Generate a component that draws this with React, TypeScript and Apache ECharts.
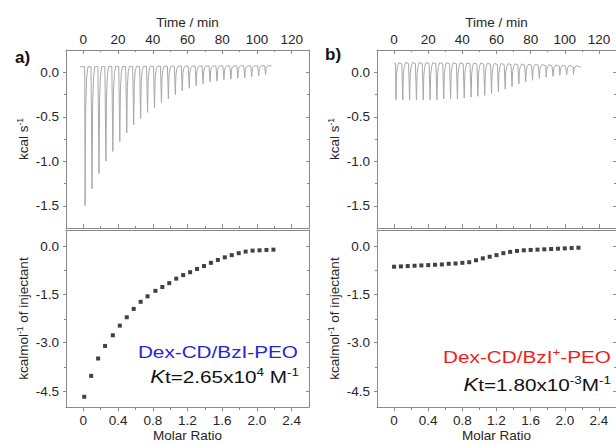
import React, { useEffect, useRef } from "react";
import * as echarts from "echarts";

// ---------- tick values ----------
const timeTicks = [0, 20, 40, 60, 80, 100, 120];
const timeMinor = [10, 30, 50, 70, 90, 110];
const rawYTicks = [-1.5, -1.0, -0.5, 0.0];
const rawYMinor = [-1.25, -0.75, -0.25];
const ratioTicks = [0, 0.4, 0.8, 1.2, 1.6, 2.0, 2.4];
const ratioMinor = [0.2, 0.6, 1.0, 1.4, 1.8, 2.2];
const heatYTicks = [-4.5, -3.0, -1.5, 0.0];
const heatYMinor = [-3.75, -2.25, -0.75];

// ---------- raw data panel a ----------
const injTimesA = [0.8, 4.8, 8.8, 12.8, 16.8, 20.8, 24.8, 28.8, 32.8, 36.8, 40.8, 44.8, 48.8, 52.8, 56.8, 60.8, 64.8, 68.8, 72.8, 76.8, 80.8, 84.8, 88.8, 92.8, 96.8, 100.8, 104.8];
const peakA = [-1.5, -1.31, -1.14, -1.0, -0.89, -0.78, -0.68, -0.59, -0.52, -0.45, -0.4, -0.34, -0.3, -0.25, -0.21, -0.18, -0.15, -0.13, -0.11, -0.1, -0.085, -0.078, -0.067, -0.062, -0.05, -0.04, -0.026];
const baseA = [0.062, 0.063, 0.064, 0.064, 0.065, 0.065, 0.066, 0.066, 0.067, 0.067, 0.068, 0.068, 0.068, 0.069, 0.069, 0.069, 0.07, 0.07, 0.07, 0.071, 0.071, 0.071, 0.072, 0.072, 0.072, 0.073, 0.073];

// ---------- raw data panel b ----------
const injTimesB = [0.9, 4.9, 8.9, 12.9, 16.9, 20.9, 24.9, 28.9, 32.9, 36.9, 40.9, 44.9, 48.9, 52.9, 56.9, 60.9, 64.9, 68.9, 72.9, 76.9, 80.9, 84.9, 88.9, 92.9, 96.9, 100.9, 104.9];
const peakB = [-0.31, -0.31, -0.31, -0.31, -0.31, -0.31, -0.31, -0.3, -0.3, -0.3, -0.29, -0.28, -0.27, -0.26, -0.24, -0.22, -0.19, -0.16, -0.13, -0.11, -0.09, -0.07, -0.055, -0.045, -0.035, -0.03, -0.025];
const baseB = [0.096, 0.097, 0.097, 0.097, 0.097, 0.096, 0.096, 0.095, 0.095, 0.094, 0.093, 0.092, 0.091, 0.09, 0.088, 0.087, 0.085, 0.083, 0.081, 0.079, 0.077, 0.075, 0.072, 0.07, 0.067, 0.065, 0.062];

// ---------- integrated heats ----------
const ratioA = [0.01, 0.09, 0.17, 0.25, 0.34, 0.42, 0.5, 0.58, 0.66, 0.74, 0.83, 0.91, 0.99, 1.07, 1.15, 1.23, 1.31, 1.39, 1.47, 1.55, 1.63, 1.71, 1.79, 1.87, 1.95, 2.03, 2.11, 2.19];
const heatA = [-4.68, -4.03, -3.49, -3.1, -2.77, -2.47, -2.21, -1.95, -1.73, -1.56, -1.39, -1.27, -1.15, -1.01, -0.9, -0.81, -0.71, -0.62, -0.52, -0.43, -0.35, -0.28, -0.22, -0.17, -0.14, -0.13, -0.12, -0.11];
const ratioB = [0.0, 0.08, 0.16, 0.24, 0.32, 0.4, 0.48, 0.56, 0.64, 0.72, 0.8, 0.88, 0.96, 1.04, 1.12, 1.2, 1.28, 1.36, 1.44, 1.52, 1.6, 1.68, 1.76, 1.84, 1.92, 2.0, 2.08, 2.16];
const heatB = [-0.64, -0.63, -0.62, -0.61, -0.6, -0.59, -0.58, -0.57, -0.55, -0.54, -0.52, -0.5, -0.44, -0.38, -0.33, -0.28, -0.22, -0.18, -0.15, -0.13, -0.12, -0.11, -0.1, -0.09, -0.08, -0.07, -0.06, -0.05];

const FONT = '"Liberation Sans", Arial, Helvetica, sans-serif';
const AXIS_COLOR = "#8a8a8a";
const LABEL_COLOR = "#262626";
const TRACE_COLOR = "#a8a8a8";

function buildTrace(times: number[], peaks: number[], bases: number[], start: number, end: number, overshoot: number) {
  const pts: number[][] = [[start, bases[0]]];
  times.forEach((t, i) => {
    const b = bases[i];
    const d = peaks[i];
    pts.push([t, b], [t + 0.2, d], [t + 0.55, b + (d - b) * 0.3], [t + 1.1, b + (d - b) * 0.08], [t + 1.8, b + overshoot], [t + 3.6, b]);
  });
  pts.push([end, bases[bases.length - 1]]);
  return pts;
}

const fmtY = (v: number) => (Math.abs(v) < 1e-9 ? "0.0" : v.toFixed(1));
const fmtRatio = (v: number) => (Math.abs(v) < 1e-9 ? "0" : v.toFixed(1));

const GRIDS = [
  { left: 66, top: 50, width: 243, height: 178 },
  { left: 66, top: 230, width: 243, height: 178 },
  { left: 377, top: 50, width: 243, height: 178 },
  { left: 377, top: 230, width: 243, height: 178 },
];

const labelStyle = { color: LABEL_COLOR, fontSize: 13.5, fontFamily: FONT };
const supRich = {
  n: { fontSize: 13.5, fontFamily: FONT, color: LABEL_COLOR, lineHeight: 16 },
  s: { fontSize: 8.5, fontFamily: FONT, color: LABEL_COLOR, verticalAlign: "top" as const, lineHeight: 16, padding: [0, 0, 7, 0] },
};

function makeX(panel: number, position: "top" | "bottom", minor: boolean) {
  const raw = panel === 0 || panel === 2;
  const gridIndex = minor ? panel + 4 : panel;
  const ticks = raw ? (minor ? timeMinor : timeTicks) : minor ? ratioMinor : ratioTicks;
  const labelled = !minor && ((raw && position === "top") || (!raw && position === "bottom"));
  const showTicks = raw || position === "bottom";
  const inside = raw;
  const ax: any = {
    type: "value",
    gridIndex,
    position,
    min: raw ? -10 : -0.2,
    max: raw ? 130 : 2.6,
    splitLine: { show: false },
    axisLine: { show: !minor, onZero: false, lineStyle: { color: AXIS_COLOR, width: 1 } },
    axisTick: { show: showTicks, inside, length: minor ? 2 : 4, customValues: ticks, lineStyle: { color: AXIS_COLOR, width: 1 } },
    axisLabel: labelled
      ? { show: true, customValues: ticks, margin: raw ? 4 : 6, ...labelStyle, formatter: raw ? (v: number) => String(v) : fmtRatio }
      : { show: false },
  };
  if (labelled) {
    ax.name = raw ? "Time / min" : "Molar Ratio";
    ax.nameLocation = "middle";
    ax.nameGap = raw ? 21 : 19;
    ax.nameTextStyle = { ...labelStyle };
  }
  return ax;
}

function makeY(panel: number, position: "left" | "right", minor: boolean) {
  const raw = panel === 0 || panel === 2;
  const gridIndex = minor ? panel + 4 : panel;
  const ticks = raw ? (minor ? rawYMinor : rawYTicks) : minor ? heatYMinor : heatYTicks;
  const labelled = !minor && position === "left";
  const ax: any = {
    type: "value",
    gridIndex,
    position,
    min: raw ? -1.75 : -5,
    max: raw ? 0.25 : 0.5,
    splitLine: { show: false },
    axisLine: { show: !minor, onZero: false, lineStyle: { color: AXIS_COLOR, width: 1 } },
    axisTick: { show: true, inside: position === "right", length: minor ? 2 : 3, customValues: ticks, lineStyle: { color: AXIS_COLOR, width: 1 } },
    axisLabel: labelled ? { show: true, customValues: ticks, margin: 7, ...labelStyle, formatter: fmtY } : { show: false },
  };
  if (labelled) {
    ax.name = raw ? "{n|kcal s}{s|-1}" : "{n|kcalmol}{s|-1}{n| of injectant}";
    ax.nameLocation = "middle";
    ax.nameGap = 34;
    ax.nameTextStyle = { ...labelStyle, rich: supRich };
  }
  return ax;
}

export default function App() {
  const ref = useRef<HTMLDivElement>(null);
  useEffect(() => {
    if (!ref.current) return;
    const chart = echarts.init(ref.current, undefined, { renderer: "svg" });
    const xAxis: any[] = [];
    const yAxis: any[] = [];
    for (const minor of [false, true]) {
      for (let p = 0; p < 4; p++) {
        xAxis.push(makeX(p, "top", minor), makeX(p, "bottom", minor));
        yAxis.push(makeY(p, "left", minor), makeY(p, "right", minor));
      }
    }
    const blue = "#2626d4";
    const red = "#f01c1c";
    const bigRich = (color: string) => ({
      n: { fontSize: 17, fontFamily: FONT, fill: color, lineHeight: 20 },
      s: { fontSize: 11, fontFamily: FONT, fill: color, verticalAlign: "top" as const, lineHeight: 20, padding: [0, 0, 9, 0] },
      k: { fontSize: 18, fontFamily: FONT, fontStyle: "italic" as const, fill: color, lineHeight: 20 },
    });
    const option: any = {
      animation: false,
      backgroundColor: "#ffffff",
      grid: [...GRIDS, ...GRIDS].map((g) => ({ ...g, containLabel: false })),
      xAxis,
      yAxis,
      series: [
        {
          type: "line",
          xAxisIndex: 0,
          yAxisIndex: 0,
          data: buildTrace(injTimesA, peakA, baseA, -2, 108.5, 0),
          showSymbol: false,
          symbol: "none",
          lineStyle: { color: TRACE_COLOR, width: 1 },
        },
        {
          type: "scatter",
          xAxisIndex: 3,
          yAxisIndex: 2,
          data: ratioA.map((r, i) => [r, heatA[i]]),
          symbol: "rect",
          symbolSize: 4,
          itemStyle: { color: "#111111" },
        },
        {
          type: "line",
          xAxisIndex: 4,
          yAxisIndex: 4,
          data: buildTrace(injTimesB, peakB, baseB, 0, 109.4, 0.012),
          showSymbol: false,
          symbol: "none",
          lineStyle: { color: TRACE_COLOR, width: 1 },
        },
        {
          type: "scatter",
          xAxisIndex: 7,
          yAxisIndex: 6,
          data: ratioB.map((r, i) => [r, heatB[i]]),
          symbol: "rect",
          symbolSize: 4,
          itemStyle: { color: "#111111" },
        },
      ],
      graphic: [
        { type: "text", x: 15, y: 57, style: { text: "a)", font: `bold 17px ${FONT}`, fill: "#111", verticalAlign: "middle" } },
        { type: "text", x: 325, y: 54, style: { text: "b)", font: `bold 17px ${FONT}`, fill: "#111", verticalAlign: "middle" } },
        {
          type: "text", x: 298, y: 352, scaleX: 1.22,
          style: { text: "{n|Dex-CD/BzI-PEO}", rich: bigRich(blue), align: "right", verticalAlign: "middle" },
        },
        {
          type: "text", x: 299, y: 377, scaleX: 1.22,
          style: { text: "{k|K}{n|t=2.65x10}{s|4}{n| M}{s|-1}", rich: bigRich("#111111"), align: "right", verticalAlign: "middle" },
        },
        {
          type: "text", x: 611, y: 357, scaleX: 1.22,
          style: { text: "{n|Dex-CD/BzI}{s|+}{n|-PEO}", rich: bigRich(red), align: "right", verticalAlign: "middle" },
        },
        {
          type: "text", x: 611, y: 385, scaleX: 1.22,
          style: { text: "{k|K}{n|t=1.80x10}{s|-3}{n|M}{s|-1}", rich: bigRich("#111111"), align: "right", verticalAlign: "middle" },
        },
      ],
    };
    chart.setOption(option);
    return () => chart.dispose();
  }, []);
  return (
    <div
      ref={ref}
      style={{ position: "absolute", left: 0, top: 0, width: 616, height: 443, background: "#fff" }}
    />
  );
}
